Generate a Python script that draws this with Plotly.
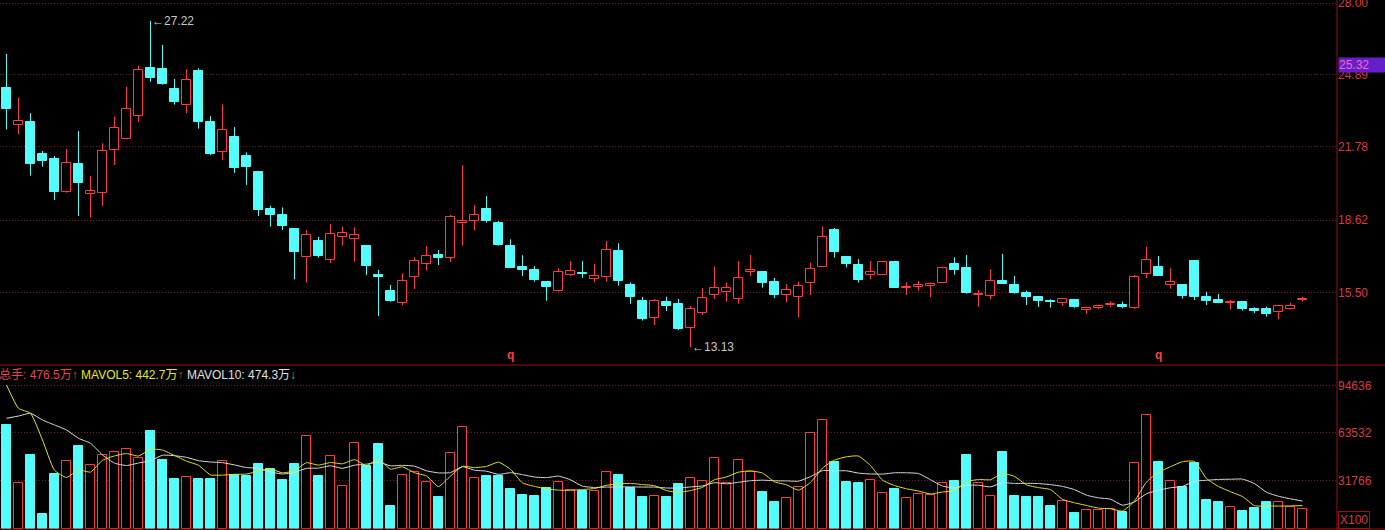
import plotly.graph_objects as go

# ---------------- data ----------------
opens = [24.32, 22.72, 22.86, 21.48, 21.26, 19.85, 21.05, 19.74, 19.81, 21.64,
         22.14, 23.13, 25.18, 25.14, 24.29, 23.58, 25.06, 22.85, 21.58, 22.21,
         21.39, 20.70, 19.10, 18.84, 18.24, 17.01, 17.72, 16.89, 17.88, 17.82,
         17.50, 16.25, 15.56, 15.04, 16.18, 16.74, 17.11, 17.00, 18.48, 18.60,
         19.09, 18.48, 17.49, 16.60, 16.47, 15.93, 15.57, 16.26, 16.34, 16.09,
         16.15, 17.29, 15.82, 15.13, 14.41, 15.07, 15.00, 13.95, 14.62, 15.40,
         15.50, 15.23, 16.38, 16.38, 15.95, 15.39, 15.31, 15.89, 16.61, 18.19,
         17.01, 16.67, 16.24, 16.26, 16.80, 15.69, 15.73, 15.77, 15.92, 16.73,
         16.54, 15.40, 15.36, 15.99, 15.82, 15.49, 15.30, 15.14, 15.03, 15.17,
         14.74, 14.82, 14.94, 14.95, 14.81, 16.28, 16.58, 15.81, 15.82, 16.85,
         15.29, 15.17, 15.04, 15.09, 14.77, 14.77, 14.64, 14.80, 15.18]
highs = [25.80, 23.91, 23.24, 21.61, 21.39, 21.69, 22.47, 20.53, 21.94, 23.09,
         24.38, 25.29, 27.22, 26.19, 24.72, 25.14, 25.18, 23.11, 23.62, 22.64,
         21.55, 20.70, 19.24, 19.17, 18.27, 18.19, 17.89, 18.45, 18.34, 18.31,
         17.55, 16.47, 15.82, 16.32, 17.01, 17.50, 17.33, 18.84, 20.99, 19.27,
         19.66, 18.58, 17.79, 17.10, 16.63, 15.93, 16.54, 16.85, 16.85, 16.73,
         17.72, 17.62, 15.93, 15.30, 15.21, 15.31, 15.21, 14.91, 15.68, 16.61,
         15.92, 16.85, 17.11, 16.38, 16.12, 15.86, 15.96, 16.78, 18.34, 18.28,
         17.07, 16.93, 16.85, 16.82, 16.80, 15.93, 15.99, 15.92, 16.61, 17.01,
         17.11, 15.60, 16.50, 17.16, 16.21, 15.57, 15.33, 15.20, 15.24, 15.21,
         14.88, 14.95, 15.11, 15.10, 16.25, 17.47, 17.07, 16.54, 15.86, 16.85,
         15.53, 15.43, 15.17, 15.09, 14.85, 14.88, 14.95, 15.05, 15.31]
lows = [22.54, 22.33, 20.54, 20.93, 19.49, 19.81, 18.80, 18.73, 19.24, 21.00,
        22.11, 22.87, 24.60, 24.47, 23.61, 23.24, 22.57, 21.42, 21.22, 20.66,
        20.14, 18.80, 18.34, 18.19, 16.06, 15.92, 17.00, 16.77, 17.52, 16.82,
        16.25, 14.48, 15.09, 14.94, 15.65, 16.44, 16.68, 16.82, 17.52, 18.19,
        18.51, 17.52, 16.57, 16.21, 15.96, 15.14, 15.53, 16.21, 16.13, 15.93,
        15.96, 15.79, 15.00, 14.28, 14.09, 14.69, 13.87, 13.13, 14.52, 15.21,
        15.10, 15.01, 16.21, 15.70, 15.26, 15.07, 14.42, 15.39, 16.61, 17.00,
        16.57, 15.92, 16.06, 16.24, 15.70, 15.39, 15.57, 15.29, 15.92, 16.26,
        15.43, 14.88, 15.20, 15.85, 15.44, 14.95, 14.87, 14.84, 14.91, 14.81,
        14.57, 14.77, 14.85, 14.81, 14.77, 16.11, 16.22, 15.66, 15.23, 15.17,
        14.95, 15.03, 14.77, 14.71, 14.60, 14.45, 14.34, 14.77, 15.10]
closes = [23.41, 22.90, 21.06, 21.19, 19.85, 21.08, 20.24, 19.88, 21.61, 22.60,
          23.42, 25.11, 24.77, 24.51, 23.74, 24.67, 22.87, 21.48, 22.51, 20.89,
          20.93, 19.06, 18.85, 18.37, 17.26, 17.98, 17.07, 18.01, 18.05, 17.98,
          16.65, 16.16, 15.13, 15.98, 16.85, 17.07, 17.00, 18.76, 18.60, 18.83,
          18.58, 17.55, 16.57, 16.48, 16.03, 15.74, 16.37, 16.41, 16.31, 16.21,
          17.33, 16.00, 15.31, 14.35, 15.13, 14.92, 13.92, 14.78, 15.24, 15.68,
          15.68, 16.11, 16.47, 15.92, 15.39, 15.59, 15.76, 16.50, 17.88, 17.26,
          16.74, 16.03, 16.37, 16.80, 15.70, 15.74, 15.82, 15.86, 16.54, 16.47,
          15.46, 15.43, 15.98, 15.85, 15.49, 15.30, 15.14, 15.07, 15.21, 14.85,
          14.82, 14.91, 15.00, 14.87, 16.15, 16.90, 16.22, 15.95, 15.34, 15.30,
          15.13, 15.04, 15.10, 14.78, 14.71, 14.57, 14.91, 14.91, 15.21]
volumes = [68630, 30050, 48770, 9730, 36200, 44800, 54730, 41960, 48580, 50760,
           52550, 46590, 64660, 45470, 32890, 34020, 32890, 32890, 44600, 35540,
           34880, 42820, 39310, 32230, 42820, 61150, 34880, 47910, 28060, 56520,
           41490, 56050, 15020, 35340, 37330, 30710, 20980, 49900, 67110, 33350,
           34880, 34880, 26270, 22300, 21640, 26740, 30710, 25610, 24950, 24950,
           37330, 35540, 27130, 20980, 21440, 20980, 29580, 33350, 31570, 46590,
           30050, 45470, 37720, 24290, 17670, 20120, 27800, 63330, 71740, 44140,
           30910, 30240, 32030, 23430, 26270, 20120, 22770, 22300, 30050, 31570,
           48770, 30050, 21640, 50760, 21640, 20980, 20980, 15020, 18530, 10190,
           12180, 12180, 12840, 11050, 43280, 75050, 44140, 31570, 27800, 43680,
           18990, 17670, 14160, 11710, 13900, 17670, 17470, 14560, 12840]
# moving-average values at the start of the window (depend on earlier, unseen bars)
ma5_head = [95100, 79680, 76370, 58700]
ma10_head = [73060, 74580, 76370, 71940, 68630, 65320, 59830, 56520, 48770]

price_ticks = [15.50, 18.62, 21.78, 24.89, 28.00]
vol_ticks = [31766, 63532, 94636]
last_price = 25.32
high_idx, high_val = 12, 27.22
low_idx, low_val = 57, 13.13
marker_idx = [42, 96]
header_vals = {"total": "476.5万", "ma5": "442.7万", "ma10": "474.3万"}

# ---------------- styling ----------------
RED = "#ff3c3c"
CYAN = "#54fcfc"
GRID = "#7a1818"
LINE = "#961414"
LABEL = "#d83c3c"
FONT = "Liberation Sans, Arial, sans-serif"

n = len(opens)
xs = list(range(n))
up = [c >= o for o, c in zip(opens, closes)]

body_base = [min(o, c) for o, c in zip(opens, closes)]
body_h = [max(abs(c - o), 0.04) for o, c in zip(opens, closes)]
fill_col = ["black" if u else CYAN for u in up]
edge_col = [RED if u else CYAN for u in up]

def wick_xy(sel):
    wx, wy = [], []
    for i in range(n):
        if up[i] != sel:
            continue
        top = max(opens[i], closes[i])
        bot = min(opens[i], closes[i])
        wx += [i, i, None, i, i, None]
        wy += [top, highs[i], None, lows[i], bot, None]
    return wx, wy

# moving averages of volume
ma5 = []
ma10 = []
for i in range(n):
    ma5.append(ma5_head[i] if i < 4 else sum(volumes[i - 4:i + 1]) / 5)
    ma10.append(ma10_head[i] if i < 9 else sum(volumes[i - 9:i + 1]) / 10)

fig = go.Figure()

# price panel
for sel, col in [(True, RED), (False, CYAN)]:
    wx, wy = wick_xy(sel)
    fig.add_trace(go.Scatter(x=wx, y=wy, mode="lines", line=dict(color=col, width=1),
                             xaxis="x", yaxis="y", hoverinfo="skip", showlegend=False))
fig.add_trace(go.Bar(x=xs, y=body_h, base=body_base, width=0.72,
                     marker=dict(color=fill_col, line=dict(color=edge_col, width=1)),
                     xaxis="x", yaxis="y", showlegend=False))

# volume panel
fig.add_trace(go.Bar(x=xs, y=volumes, width=0.7,
                     marker=dict(color=fill_col, line=dict(color=edge_col, width=1)),
                     xaxis="x2", yaxis="y2", showlegend=False))
fig.add_trace(go.Scatter(x=xs, y=ma10, mode="lines", line=dict(color="#e0e0e0", width=1, shape="spline", smoothing=0.5),
                         xaxis="x2", yaxis="y2", showlegend=False))
fig.add_trace(go.Scatter(x=xs, y=ma5, mode="lines", line=dict(color="#e8e820", width=1, shape="spline", smoothing=0.5),
                         xaxis="x2", yaxis="y2", showlegend=False))

W, H = 1385, 530
plot_right = 1337
sep_y = 365
xr = [(0 - 6.5) / 12, (plot_right - 6.5) / 12]

fig.update_layout(
    width=W, height=H,
    margin=dict(l=0, r=W - plot_right, t=0, b=0, autoexpand=False),
    paper_bgcolor="black", plot_bgcolor="black",
    barmode="overlay", bargap=0, showlegend=False,
    font=dict(family=FONT, size=12, color=LABEL),
    xaxis=dict(domain=[0, 1], range=xr, showgrid=False, zeroline=False,
               showticklabels=False, ticks="", anchor="y"),
    xaxis2=dict(domain=[0, 1], range=xr, showgrid=False, zeroline=False,
                showticklabels=False, ticks="", anchor="y2", matches="x"),
    yaxis=dict(domain=[1 - sep_y / H, 1], range=[12.36, 28.13], side="right",
               tickvals=price_ticks, ticktext=[f"{v:.2f}" for v in price_ticks],
               showgrid=True, gridcolor=GRID, griddash="1px,2px", gridwidth=1,
               zeroline=False, ticks="", ticklabeloverflow="allow",
               tickfont=dict(color=LABEL, size=12, family=FONT), anchor="x"),
    yaxis2=dict(domain=[0, 1 - (sep_y + 1) / H], range=[-860, 107670], side="right",
                tickvals=vol_ticks, ticktext=[str(v) for v in vol_ticks],
                showgrid=True, gridcolor=GRID, griddash="1px,2px", gridwidth=1,
                zeroline=False, ticks="", ticklabeloverflow="allow",
                tickfont=dict(color=LABEL, size=12, family=FONT), anchor="x2"),
)

ext = W / plot_right
fig.add_shape(type="line", xref="paper", yref="paper", x0=1, x1=1, y0=0, y1=1,
              line=dict(color=LINE, width=1))
fig.add_shape(type="line", xref="paper", yref="paper", x0=0, x1=ext,
              y0=1 - sep_y / H, y1=1 - sep_y / H, line=dict(color=LINE, width=1))
fig.add_shape(type="line", xref="paper", yref="paper", x0=0, x1=ext,
              y0=1 - 529 / H, y1=1 - 529 / H, line=dict(color=LINE, width=1))

# high / low labels
fig.add_annotation(x=high_idx, y=high_val, xref="x", yref="y", text=f"←{high_val:.2f}",
                   showarrow=False, xanchor="left", yanchor="middle", xshift=-1,
                   font=dict(color="#c8c8c8", size=12, family=FONT))
fig.add_annotation(x=low_idx, y=low_val, xref="x", yref="y", text=f"←{low_val:.2f}",
                   showarrow=False, xanchor="left", yanchor="middle", xshift=-1,
                   font=dict(color="#c8c8c8", size=12, family=FONT))
for mi in marker_idx:
    fig.add_annotation(x=mi, y=12.8, xref="x", yref="y", text="<b>q</b>", showarrow=False,
                       font=dict(color=RED, size=12, family=FONT))

# last price tag
fig.add_annotation(x=1, y=last_price, xref="paper", yref="y", text=f"{last_price:.2f}",
                   showarrow=False, xanchor="left", yanchor="middle", align="left",
                   xshift=1, width=46, height=14, borderpad=0,
                   bgcolor="#6420c8", font=dict(color="#ff64c8", size=12, family=FONT))
# unit tag
fig.add_annotation(x=1, y=1 - 520 / H, xref="paper", yref="paper", text="X100",
                   showarrow=False, xanchor="left", yanchor="middle", xshift=1,
                   bordercolor=LINE, borderwidth=1, borderpad=1,
                   font=dict(color=LABEL, size=12, family=FONT))

# header of volume panel
header = (f"<span style='color:#e84848'>总手: {header_vals['total']}↑</span> "
          f"<span style='color:#e8e820'>MAVOL5: {header_vals['ma5']}</span><span style='color:#e84848'>↑</span> "
          f"<span style='color:#e0e0e0'>MAVOL10: {header_vals['ma10']}</span><span style='color:#40c0a0'>↓</span>")
fig.add_annotation(x=0, y=1 - 375 / H, xref="paper", yref="paper", text=header,
                   showarrow=False, xanchor="left", yanchor="middle", xshift=-3,
                   font=dict(size=12, family="Liberation Sans, Noto Sans CJK SC, sans-serif"))

fig.write_html("out.html", config={"displayModeBar": False},
               post_script="document.body.style.margin='0px';document.body.style.background='black';")
